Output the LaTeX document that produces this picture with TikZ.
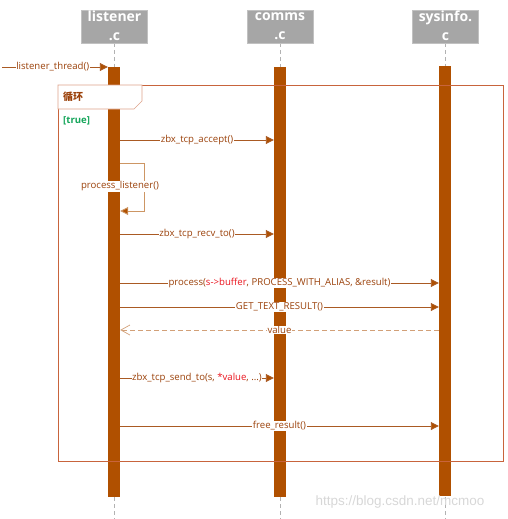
\documentclass[tikz,border=0pt]{standalone}
\usepackage{fontspec}
\setmainfont{Open Sans}
\newfontfamily\cjk{Noto Sans CJK SC}
\newfontfamily\wmfont{Liberation Sans}
\usetikzlibrary{arrows.meta}
\definecolor{barc}{RGB}{176,80,0}
\definecolor{msgc}{RGB}{170,90,35}
\definecolor{selfc}{RGB}{205,150,100}
\definecolor{retc}{RGB}{210,160,120}
\definecolor{lblc}{RGB}{155,65,10}
\definecolor{redc}{RGB}{235,20,30}
\definecolor{framec}{RGB}{200,100,60}
\definecolor{headc}{RGB}{166,166,166}
\definecolor{greenc}{RGB}{20,165,90}
\definecolor{wmc}{RGB}{215,215,215}
\tikzset{
  headbox/.style={draw=headc!70!white, fill=headc, minimum width=66pt, minimum height=33pt, inner sep=0pt},
  headtxt/.style={text=white, font=\fontsize{14}{19}\selectfont\bfseries, align=center, inner sep=0pt},
  actbar/.style={fill=barc, draw=none, minimum width=12pt, minimum height=430pt, inner sep=0pt},
  life/.style={draw=gray!60, dashed, dash pattern=on 4pt off 3pt, line width=0.8pt},
  msg/.style={draw=msgc, line width=0.9pt, -{Triangle[length=8pt,width=8pt,fill=barc]}},
  selfmsg/.style={draw=selfc, line width=0.9pt, -{Triangle[length=8pt,width=8pt,fill=barc]}},
  retmsg/.style={draw=retc, line width=0.9pt, dash pattern=on 5pt off 3pt, -{Straight Barb[length=9pt,width=10pt,line width=0.7pt]}},
  lbl/.style={fill=white, text=lblc, inner sep=0.6pt, font=\fontsize{9.6}{11}\selectfont},
}
\begin{document}
\begin{tikzpicture}[x=1pt,y=-1pt]
\useasboundingbox (0,0) rectangle (508,519);
% lifelines
\foreach \cx in {114,280,445}{
  \draw[life] (\cx,43) -- (\cx,67);
  \draw[life] (\cx,497) -- (\cx,519);
}
% header boxes
\node[headbox] (hl) at (114.5,26.5) {};
\node[headbox] (hc) at (280,26.5) {};
\node[headbox] (hs) at (445.5,26.5) {};
\node[headtxt] at (114.5,26) {listener\\.c};
\node[headtxt] at (280,26) {comms\\.c};
\node[headtxt] at (445.5,26) {sysinfo.\\c};
% activation bars
\node[actbar] (lb) at (114,282) {};
\node[actbar] (cb) at (280,282) {};
\node[actbar] (sb) at (445,281) {};
% loop frame
\draw[framec, line width=0.9pt] (58,85) rectangle (503,461);
\draw[framec!60!white, line width=0.6pt, fill=white] (58,85) -- (142,85) -- (142,101) -- (134,109) -- (58,109) -- cycle;
\node[anchor=west, text=lblc, font=\cjk\fontsize{10}{11}\selectfont\bfseries, inner sep=0pt] (lp) at (63,97) {循环};
\node[anchor=west, text=greenc, font=\fontsize{9.6}{11}\selectfont\bfseries, inner sep=0pt] (tr) at (63,121) {[true]};
% entry message
\coordinate (start) at (2,67);
\draw[msg] (start) -- (lb.west |- 0,67) node[lbl, pos=0.48] {listener\_thread()};
% messages
\draw[msg] (lb.east |- 0,140) -- (cb.west |- 0,140) node[lbl, midway] {zbx\_tcp\_accept()};
\coordinate (s1) at (144,163);
\coordinate (s2) at (144,211);
\draw[selfmsg] (lb.east |- 0,163) -- (s1) -- (s2) -- (lb.east |- 0,211);
\node[lbl] (pl) at (120,186.5) {process\_listener()};
\draw[msg] (lb.east |- 0,234) -- (cb.west |- 0,234) node[lbl, midway] {zbx\_tcp\_recv\_to()};
\draw[msg] (lb.east |- 0,283) -- (sb.west |- 0,283) node[lbl, midway] {process(\textcolor{redc}{s->buffer}, PROCESS\_WITH\_ALIAS, \&result)};
\draw[msg] (lb.east |- 0,307) -- (sb.west |- 0,307) node[lbl, midway] {GET\_TEXT\_RESULT()};
\draw[retmsg] (sb.west |- 0,330) -- (lb.east |- 0,330) node[lbl, midway] {value};
\draw[msg] (lb.east |- 0,378) -- (cb.west |- 0,378) node[lbl, midway] {zbx\_tcp\_send\_to(s, \textcolor{redc}{*value}, ...)};
\draw[msg] (lb.east |- 0,426) -- (sb.west |- 0,426) node[lbl, midway] {free\_result()};
% watermark
\node[text=wmc, font=\wmfont\fontsize{13.5}{15}\selectfont, inner sep=0pt] (wm) at (400,502) {https://blog.csdn.net/mcmoo};
\end{tikzpicture}
\end{document}
